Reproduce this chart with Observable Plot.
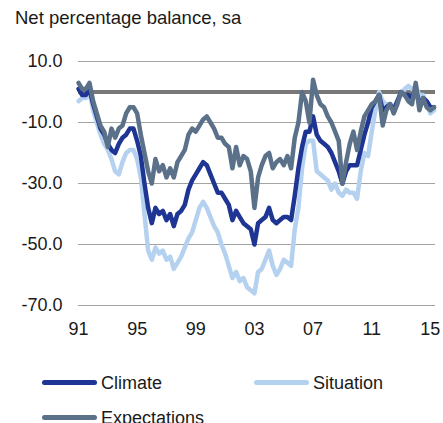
<!DOCTYPE html>
<html>
<head>
<meta charset="utf-8">
<script src="https://cdn.jsdelivr.net/npm/d3@7"></script>
<script src="https://cdn.jsdelivr.net/npm/@observablehq/plot@0.6"></script>
<style>
  html, body { margin: 0; padding: 0; background: #fff; overflow: hidden; }
  #wrap { position: relative; width: 443px; height: 423px; font-family: "Liberation Sans", Arial, sans-serif; color: #1a1a1a; }
  #chart { position: absolute; left: 0; top: 0; }
  .txt { position: absolute; font-size: 18px; line-height: 18px; white-space: nowrap; }
  .sw { position: absolute; width: 55px; height: 5px; border-radius: 2.5px; }
</style>
</head>
<body>
<div id="wrap">
  <div id="chart"></div>
  <div class="txt" style="left:15px; top:9px; font-size:18.5px;">Net percentage balance, sa</div>
  <div id="legend"></div>
</div>
<script>
// Quarterly observations, Q1 1991 to Q2 2015
const startYear = 1991;
const expectations = [
  3, 1, 1, 3,
  -3, -7, -11, -13,
  -18, -12, -15, -12,
  -11, -7, -5, -5,
  -7, -14, -20, -26,
  -30, -22, -26, -24,
  -28, -25, -28, -23,
  -21, -19, -14, -12,
  -13, -11, -9, -8,
  -10, -12, -15, -15,
  -17, -18, -25, -18,
  -24, -21, -22, -26,
  -38, -28, -24, -21,
  -20, -25, -23, -22,
  -24, -21, -25, -15,
  -10, 0, -3, -10,
  4, -1, -4, -5,
  -8, -10, -13, -16,
  -30, -23, -17, -13,
  -19, -13, -8, -6,
  -4, -3, -1, -11,
  -6, -4, -7, -4,
  0, -1, -3, -4,
  3, -6, -2, -5,
  -6, -5
];
const climate = [
  1, -1, -1, 1,
  -4, -8, -12, -14,
  -17, -19, -20, -17,
  -15, -14, -12, -12,
  -16, -21, -30, -38,
  -43, -38, -40, -39,
  -42, -40, -44, -40,
  -39, -37, -32, -29,
  -27, -25, -23, -24,
  -27, -30, -33, -33,
  -35, -37, -42, -39,
  -41, -43, -44, -45,
  -50, -43, -42, -41,
  -38, -42, -43, -42,
  -41, -41, -42, -34,
  -25, -18, -13, -13,
  -8, -14, -16, -17,
  -18, -20, -23, -26,
  -30, -26, -24, -24,
  -24, -19, -14, -10,
  -5, -3, -1, -6,
  -5, -4, -6, -3,
  0, -1, -1, -2,
  1, -4, -2, -3,
  -5, -5
];
const situation = [
  -3, -2, -2, 0,
  -6, -10, -14, -17,
  -19, -22, -26, -27,
  -23, -20, -19, -19,
  -22, -28, -40, -52,
  -55, -51, -53, -52,
  -55, -54, -58, -56,
  -54, -51, -48, -46,
  -42, -38, -36, -38,
  -41, -44, -46, -50,
  -53, -57, -61, -59,
  -62, -61, -64, -65,
  -66, -59, -58, -55,
  -52, -57, -60, -58,
  -55, -56, -57, -45,
  -38, -25, -17, -16,
  -16, -26, -27, -28,
  -29, -32, -30, -33,
  -34, -32, -33, -33,
  -35, -26, -20, -21,
  -13, -6, 0, -3,
  -4, -4, -5, -3,
  -1, 1, 2, 1,
  2, -1, -1, -4,
  -7, -6
];
const seriesNames = ["Situation", "Climate", "Expectations"];
const seriesColors = ["#b5d1f0", "#1f3593", "#5b7189"];
const xTicks = [1991, 1995, 1999, 2003, 2007, 2011, 2015];
const yTicks = [-70, -50, -30, -10, 10];

const table = [];
[situation, climate, expectations].forEach((arr, k) => {
  arr.forEach((v, i) => table.push({series: seriesNames[k], year: startYear + i * 0.25, value: v}));
});

const chart = Plot.plot({
  width: 443,
  height: 350,
  marginLeft: 78,
  marginRight: 8,
  marginTop: 61,
  marginBottom: 45,
  style: {fontFamily: '"Liberation Sans", Arial, sans-serif', fontSize: "18px", color: "#1a1a1a", background: "transparent"},
  x: {domain: [1991, 2015.35], ticks: xTicks, tickFormat: d => String(d % 100).padStart(2, "0"), tickSize: 0, tickPadding: 17, label: null},
  y: {domain: [-70, 10], ticks: yTicks, tickFormat: d => d.toFixed(1), tickSize: 0, tickPadding: 16, label: null},
  color: {domain: seriesNames, range: seriesColors},
  marks: [
    Plot.gridY(yTicks, {stroke: "#a3a3a3", strokeOpacity: 1, strokeWidth: 1.2}),
    Plot.ruleY([0], {stroke: "#787878", strokeWidth: 4}),
    ...seriesNames.map(name => Plot.line(table.filter(d => d.series === name), {
      x: "year", y: "value", stroke: "series", strokeWidth: 4.5, strokeLinejoin: "round", strokeLinecap: "round"
    }))
  ]
});
document.getElementById("chart").appendChild(chart);

// Legend
const legendItems = [
  {name: "Climate", color: seriesColors[1], sx: 42, tx: 101, cy: 382},
  {name: "Situation", color: seriesColors[0], sx: 254, tx: 313, cy: 382},
  {name: "Expectations", color: seriesColors[2], sx: 42, tx: 101, cy: 417}
];
const lg = document.getElementById("legend");
legendItems.forEach(it => {
  const s = document.createElement("div");
  s.className = "sw";
  s.style.left = it.sx + "px";
  s.style.top = (it.cy - 2.5) + "px";
  s.style.background = it.color;
  lg.appendChild(s);
  const t = document.createElement("div");
  t.className = "txt";
  t.style.left = it.tx + "px";
  t.style.top = (it.cy - 8) + "px";
  t.textContent = it.name;
  lg.appendChild(t);
});
</script>
</body>
</html>
